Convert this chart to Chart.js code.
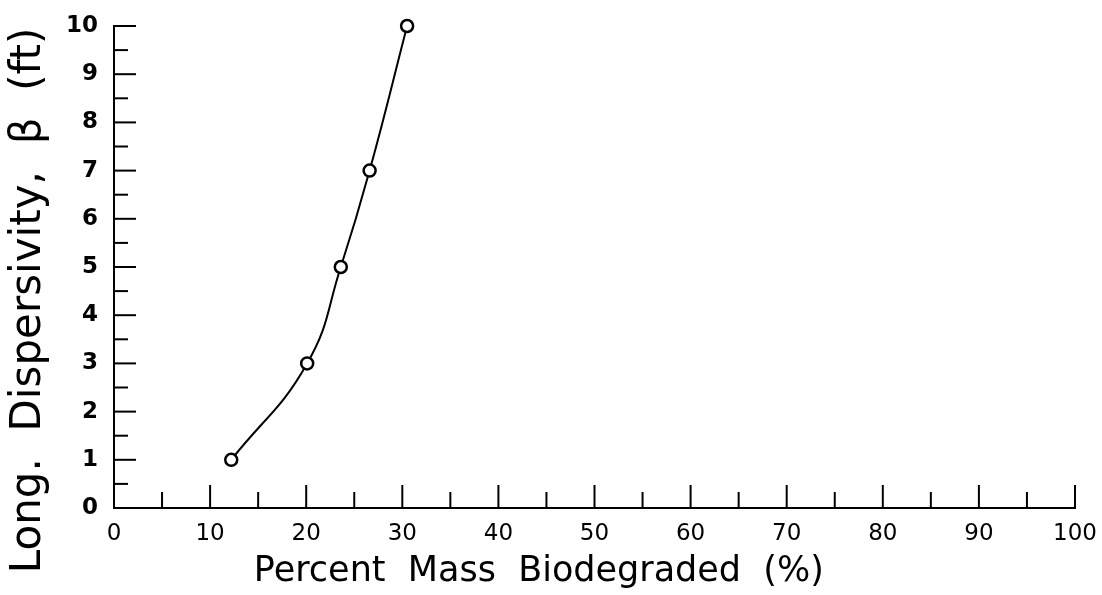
<!DOCTYPE html>
<html lang="en">
<head>
    <meta charset="UTF-8">
    <title>Dispersivity vs Biodegradation</title>
    <script src="https://cdn.jsdelivr.net/npm/chart.js"></script>
    <style>
        body {
            margin: 0;
            background: #ffffff;
        }
        .wrap {
            width: 1102px;
            height: 595px;
        }
    </style>
</head>
<body>
<div class="wrap"><canvas id="grafico"></canvas></div>
<script>
    // Valores
    const massBiodegraded = [12.2, 20.1, 23.6, 26.6, 30.5];
    const dispersivity = [1, 3, 5, 7, 10];
    const xTickStep = 10;
    const yTickStep = 1;

    const puntos = massBiodegraded.map((x, i) => ({ x: x, y: dispersivity[i] }));

    // Marcas de los ejes hacia adentro (mayores y menores)
    const inwardTicks = {
        id: 'inwardTicks',
        afterDraw(chart) {
            const ctx = chart.ctx;
            const xs = chart.scales.x, ys = chart.scales.y;
            const area = chart.chartArea;
            ctx.save();
            ctx.strokeStyle = '#000';
            ctx.lineWidth = 2;
            for (let v = 5; v <= 100; v += 5) {
                const px = xs.getPixelForValue(v);
                const len = v % 10 === 0 ? 23 : 16;
                ctx.beginPath();
                ctx.moveTo(px, area.bottom);
                ctx.lineTo(px, area.bottom - len);
                ctx.stroke();
            }
            for (let v = 0.5; v <= 10; v += 0.5) {
                const py = ys.getPixelForValue(v);
                const len = Number.isInteger(v) ? 22 : 14;
                ctx.beginPath();
                ctx.moveTo(area.left, py);
                ctx.lineTo(area.left + len, py);
                ctx.stroke();
            }
            ctx.restore();
        }
    };

    new Chart(document.getElementById('grafico'), {
        type: 'scatter',
        data: {
            datasets: [{
                data: puntos,
                showLine: true,
                clip: false,
                borderColor: '#000',
                borderWidth: 2,
                tension: 0.45,
                pointRadius: 6,
                pointBorderWidth: 2.5,
                pointBackgroundColor: '#fff',
                pointBorderColor: '#000'
            }]
        },
        options: {
            responsive: true,
            maintainAspectRatio: false,
            animation: false,
            layout: { padding: { top: 26, right: 27 } },
            plugins: {
                legend: { display: false },
                tooltip: { enabled: false }
            },
            scales: {
                x: {
                    type: 'linear',
                    min: 0,
                    max: 100,
                    ticks: {
                        stepSize: xTickStep,
                        color: '#000',
                        padding: 4,
                        font: { family: 'DejaVu Sans', size: 23 }
                    },
                    grid: { display: false },
                    border: { display: true, color: '#000', width: 2 },
                    title: {
                        display: true,
                        // espacios al final para correr el titulo a la izquierda como en el original
                        text: 'Percent  Mass  Biodegraded  (%)          ',
                        color: '#000',
                        padding: { top: 0, bottom: 2 },
                        font: { family: 'DejaVu Sans', size: 35 }
                    },
                    afterFit(scale) { scale.height = 87; }
                },
                y: {
                    type: 'linear',
                    min: 0,
                    max: 10,
                    ticks: {
                        stepSize: yTickStep,
                        color: '#000',
                        padding: 8,
                        font: { family: 'DejaVu Sans', size: 23, weight: 'bold' }
                    },
                    grid: { display: false },
                    border: { display: true, color: '#000', width: 2 },
                    title: {
                        display: true,
                        text: 'Long.  Dispersivity,  \u03b2  (ft)     ',
                        color: '#000',
                        padding: { top: 4, bottom: 2 },
                        font: { family: 'DejaVu Sans', size: 42 }
                    },
                    afterFit(scale) { scale.width = 114; }
                }
            }
        },
        plugins: [inwardTicks]
    });
</script>
</body>
</html>
